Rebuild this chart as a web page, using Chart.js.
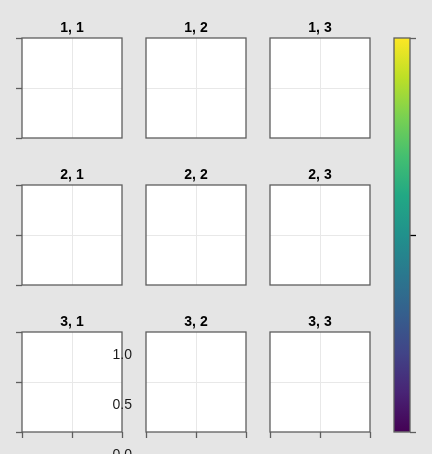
<!DOCTYPE html>
<html>
<head>
<meta charset="utf-8">
<script src="https://cdn.jsdelivr.net/npm/chart.js@4.4.1/dist/chart.umd.min.js"></script>
<style>
html,body{margin:0;padding:0;width:432px;height:454px;overflow:hidden;background:#e5e5e5;}
body{position:relative;}
canvas{position:absolute;}
</style>
</head>
<body>
<script>
// ---- data ----
const panelTitles = [
  ["1, 1", "1, 2", "1, 3"],
  ["2, 1", "2, 2", "2, 3"],
  ["3, 1", "3, 2", "3, 3"]
];
const axisRange = [0, 1];
const axisTicks = [0, 0.5, 1];
const colorbarCategory = ["colorbar"];
const colorbarRange = [0, 1];
const colorbarTicks = [0, 0.5, 1];
const strayTickValues = [0, 0.5, 1];
const strayTickLabels = ["0.0", "0.5", "1.0"];
const viridisStops = ["#440154","#482475","#414487","#355f8d","#2a788e","#21918c","#22a884","#44bf70","#7ad151","#bddf26","#fde725"];

// ---- layout / style ----
const colLeft = [22, 146, 270];
const rowTop = [38, 185, 332];
const AX = 100;
const frameColor = "#5e5e5e";
const gridColor = "#e8e8e8";
const FONT = "'Liberation Sans', Arial, Helvetica, sans-serif";
Chart.defaults.font.family = FONT;

const framePlugin = {
  id: "frame",
  beforeDraw(chart) {
    const a = chart.chartArea, c = chart.ctx;
    if (chart.options.plugins.frame && chart.options.plugins.frame.fill) {
      c.save();
      c.fillStyle = chart.options.plugins.frame.fill;
      c.fillRect(a.left, a.top, a.right - a.left, a.bottom - a.top);
      c.restore();
    }
  },
  afterDraw(chart) {
    const a = chart.chartArea, c = chart.ctx;
    c.save();
    c.strokeStyle = frameColor;
    c.lineWidth = 1.3;
    c.strokeRect(a.left, a.top, a.right - a.left, a.bottom - a.top);
    c.restore();
  }
};

function addCanvas(left, top, w, h) {
  const cv = document.createElement("canvas");
  cv.width = w; cv.height = h;
  cv.style.left = left + "px"; cv.style.top = top + "px";
  cv.style.width = w + "px"; cv.style.height = h + "px";
  document.body.appendChild(cv);
  return cv;
}

function makePanel(r, c) {
  const L = colLeft[c], T = rowTop[r];
  const showY = c === 0, showX = r === 2;
  const padL = 22, padT = 38, padR = 6, padB = 12;
  const cv = addCanvas(L - padL, T - padT, padL + AX + padR, padT + AX + padB);
  const tickList = () => axisTicks.map(v => ({ value: v }));
  const gcol = ctx => (ctx.tick && ctx.tick.value === 0.5) ? gridColor : "rgba(0,0,0,0)";
  new Chart(cv, {
    type: "scatter",
    data: { datasets: [{ data: [] }] },
    options: {
      responsive: false, animation: false, devicePixelRatio: 1,
      layout: { padding: { left: padL - (showY ? 6 : 0), top: 0, right: padR, bottom: padB - (showX ? 6 : 0) } },
      plugins: {
        legend: { display: false }, tooltip: { enabled: false },
        frame: { fill: "#ffffff" },
        title: {
          display: true, fullSize: false, text: panelTitles[r][c], color: "#000",
          font: { family: FONT, size: 14, weight: "bold", lineHeight: 1 },
          padding: { top: 21, bottom: 3 }
        }
      },
      scales: {
        x: {
          type: "linear", min: axisRange[0], max: axisRange[1],
          afterBuildTicks: s => { s.ticks = tickList(); },
          ticks: { display: false },
          grid: { color: gcol, lineWidth: 1, drawTicks: showX, tickLength: 6, tickColor: frameColor, tickWidth: 1.3 },
          border: { display: false },
          afterFit: s => { s.height = showX ? 6 : 0; }
        },
        y: {
          type: "linear", min: axisRange[0], max: axisRange[1],
          afterBuildTicks: s => { s.ticks = tickList(); },
          ticks: { display: false },
          grid: { color: gcol, lineWidth: 1, drawTicks: showY, tickLength: 6, tickColor: frameColor, tickWidth: 1.3 },
          border: { display: false },
          afterFit: s => { s.width = showY ? 6 : 0; }
        }
      }
    },
    plugins: [framePlugin]
  });
}

for (let r = 0; r < 3; r++) for (let c = 0; c < 3; c++) makePanel(r, c);

// ---- colorbar ----
(function () {
  const left = 394, top = 38, w = 16, h = 394;
  const padL = 4, padT = 10, padR = 6, padB = 10;
  const cv = addCanvas(left - padL, top - padT, padL + w + 6 + padR, padT + h + padB);
  new Chart(cv, {
    type: "bar",
    data: {
      labels: colorbarCategory,
      datasets: [{
        data: [colorbarRange.slice()],
        barPercentage: 1, categoryPercentage: 1, borderWidth: 0,
        backgroundColor: ctx => {
          const ch = ctx.chart, ys = ch.scales.y;
          if (!ys || !ch.chartArea) return viridisStops[5];
          const g = ch.ctx.createLinearGradient(0, ys.getPixelForValue(colorbarRange[0]), 0, ys.getPixelForValue(colorbarRange[1]));
          viridisStops.forEach((col, i) => g.addColorStop(i / (viridisStops.length - 1), col));
          return g;
        }
      }]
    },
    options: {
      responsive: false, animation: false, devicePixelRatio: 1,
      layout: { padding: { left: padL, top: padT, right: padR, bottom: padB } },
      plugins: { legend: { display: false }, tooltip: { enabled: false } },
      scales: {
        x: { display: false },
        y: {
          position: "right", min: colorbarRange[0], max: colorbarRange[1],
          afterBuildTicks: s => { s.ticks = colorbarTicks.map(v => ({ value: v })); },
          ticks: { display: false },
          grid: {
            color: "rgba(0,0,0,0)", drawTicks: true, tickLength: 6, tickWidth: 1.3,
            tickColor: ctx => (ctx.tick && ctx.tick.value === 0.5) ? "#000000" : frameColor
          },
          border: { display: false },
          afterFit: s => { s.width = 6; }
        }
      }
    },
    plugins: [framePlugin]
  });
})();

// ---- stray tick labels ----
(function () {
  const cv = addCanvas(100, 340, 50, 130);
  new Chart(cv, {
    type: "scatter",
    data: { datasets: [{ data: [] }] },
    options: {
      responsive: false, animation: false, devicePixelRatio: 1,
      layout: { padding: { left: 0, top: 15, right: 0, bottom: 15 } },
      plugins: { legend: { display: false }, tooltip: { enabled: false } },
      scales: {
        x: { display: false },
        y: {
          position: "left", min: 0, max: 1,
          afterBuildTicks: s => { s.ticks = strayTickValues.map(v => ({ value: v })); },
          ticks: {
            padding: 0, color: "#1a1a1a", font: { family: FONT, size: 14 },
            callback: (v, i) => strayTickLabels[strayTickValues.indexOf(v)]
          },
          grid: { display: false, drawTicks: false },
          border: { display: false },
          afterFit: s => { s.width = 32; }
        }
      }
    }
  });
})();
</script>
</body>
</html>
